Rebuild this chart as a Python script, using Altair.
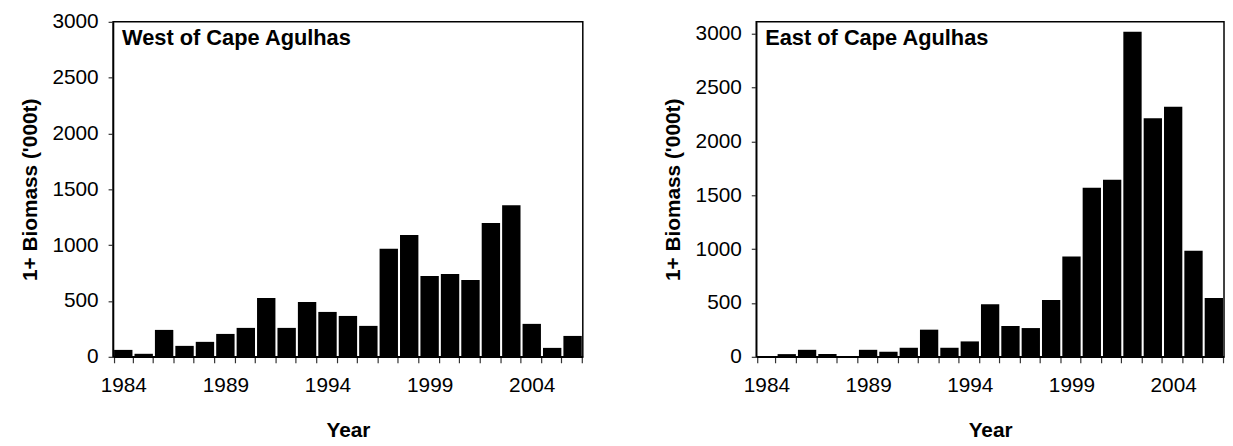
import altair as alt
import pandas as pd

years = list(range(1984, 2007))
west = [62, 27, 241, 98, 134, 205, 259, 527, 259, 491, 402, 366, 277,
        968, 1092, 723, 741, 687, 1198, 1358, 295, 80, 187]
east = [5, 25, 65, 25, 5, 65, 47, 84, 252, 84, 143, 488, 286, 267,
        528, 932, 1570, 1644, 3018, 2214, 2322, 985, 546]
y_ticks = [0, 500, 1000, 1500, 2000, 2500, 3000]
label_years = [1984, 1989, 1994, 1999, 2004]

FONT = "Liberation Sans"


def panel(values, label, ymax, width):
    df = pd.DataFrame({"Year": years, "Biomass": values})
    expr = "indexof(" + str(label_years) + ", datum.value) >= 0 ? datum.label : ''"
    bars = alt.Chart(df).mark_bar(color="black").encode(
        x=alt.X("Year:O",
                scale=alt.Scale(paddingInner=0.1, paddingOuter=0.05),
                axis=alt.Axis(title="Year", labelAngle=0, labelExpr=expr,
                              tickBand="extent", tickSize=6,
                              labelPadding=12, titlePadding=24)),
        y=alt.Y("Biomass:Q",
                scale=alt.Scale(domain=[0, ymax], nice=False),
                axis=alt.Axis(title="1+ Biomass ('000t)", values=y_ticks,
                              format="d", grid=False, tickSize=5,
                              labelPadding=10, titlePadding=12)),
    )
    txt = alt.Chart(pd.DataFrame({"t": [label]})).mark_text(
        align="left", baseline="middle", fontSize=22, fontWeight="bold",
        font=FONT, color="black"
    ).encode(text="t:N", x=alt.value(9), y=alt.value(16))
    return alt.layer(bars, txt).properties(width=width, height=338)


left = panel(west, "West of Cape Agulhas", 3000, 474)
right = panel(east, "East of Cape Agulhas", 3110, 472)

chart = alt.hconcat(left, right, spacing=78).resolve_scale(y="independent").properties(
    padding={"left": 10, "top": 0, "right": 0, "bottom": 0}
).configure_view(
    stroke="black", strokeWidth=1.5
).configure_axis(
    labelFont=FONT, titleFont=FONT, labelFontSize=21, titleFontSize=21,
    titleFontWeight="bold", labelColor="black", titleColor="black",
    domainColor="black", domainWidth=1.5, tickColor="#333333", tickWidth=1.2
)

chart.save("out.html", embed_options={"renderer": "svg", "actions": False})
